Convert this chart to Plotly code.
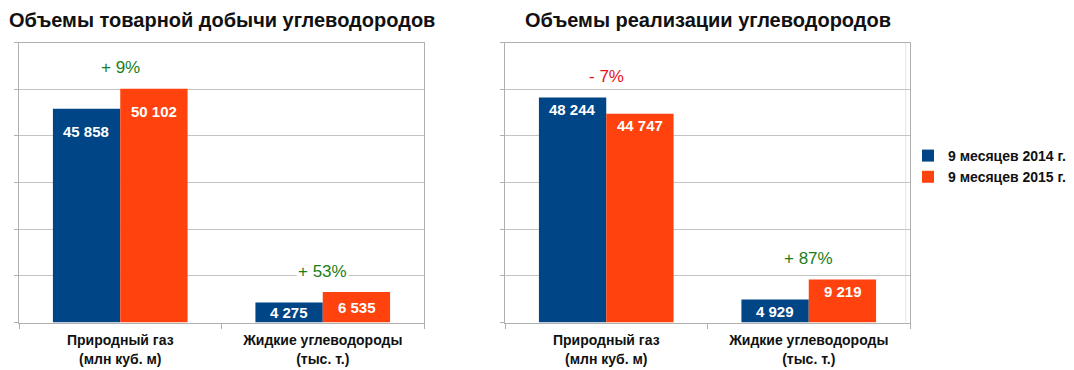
import plotly.graph_objects as go

# ---- data ----
categories = ["Природный газ<br>(млн куб. м)", "Жидкие углеводороды<br>(тыс. т.)"]
series_names = ["9 месяцев 2014 г.", "9 месяцев 2015 г."]
prod_2014 = [45858, 4275]
prod_2015 = [50102, 6535]
sales_2014 = [48244, 4929]
sales_2015 = [44747, 9219]
prod_change = ["+ 9%", "+ 53%"]
sales_change = ["- 7%", "+ 87%"]
titles = ["Объемы товарной добычи углеводородов", "Объемы реализации углеводородов"]
y_max = 60000
y_step = 10000

# ---- style ----
OFF = 8  # default page body margin
W, H = 1074 - OFF, 370 - OFF
BLUE = "#004586"
ORANGE = "#ff420e"
GREEN = "#198019"
RED = "#e8111a"
FONT = "Liberation Sans, Arial, sans-serif"
plot_top, plot_bottom = 42.7 - OFF, 322.5 - OFF
plot_h = plot_bottom - plot_top
dom_y = [(H - plot_bottom) / H, (H - plot_top) / H]
dom_x1 = [(19 - OFF) / W, (424 - OFF) / W]
dom_x2 = [(505 - OFF) / W, (910 - OFF) / W]

fig = go.Figure()

charts = [
    ("x", "y", prod_2014, prod_2015, prod_change, 23, True),
    ("x2", "y2", sales_2014, sales_2015, sales_change, 12, False),
]

annotations = []
for ci, (xa, ya, v14, v15, chg, top_off, showleg) in enumerate(charts):
    for si, (vals, col) in enumerate([(v14, BLUE), (v15, ORANGE)]):
        fig.add_trace(go.Bar(
            x=categories, y=vals, name=series_names[si], marker=dict(color=col, line=dict(width=0)),
            xaxis=xa, yaxis=ya, showlegend=showleg, offsetgroup=str(si),
            hoverinfo="skip",
        ))
        # value labels
        for k, v in enumerate(vals):
            hpx = v / y_max * plot_h
            shift = -min(top_off, hpx / 2)
            annotations.append(dict(
                x=categories[k], y=v, xref=xa, yref=ya, xshift=(-34 if si == 0 else 34),
                yshift=shift, yanchor="middle", showarrow=False,
                text=f"{v:,}".replace(",", " "),
                font=dict(family=FONT, size=15, color="white", weight="bold"),
            ))
    # change labels
    for k in range(len(categories)):
        top = max(v14[k], v15[k])
        c = RED if chg[k].startswith("-") else GREEN
        annotations.append(dict(
            x=categories[k], y=top, xref=xa, yref=ya, yshift=21, yanchor="middle",
            showarrow=False, text=chg[k], bgcolor="white", borderpad=1,
            font=dict(family=FONT, size=17, color=c),
        ))

# titles
for t, dom in zip(titles, [dom_x1, dom_x2]):
    annotations.append(dict(
        x=(dom[0] + dom[1]) / 2, y=1 - (20.5 - OFF) / H, xref="paper", yref="paper",
        text=f"<b>{t}</b>", showarrow=False, xanchor="center", yanchor="middle",
        borderpad=0, font=dict(family=FONT, size=20, color="#111111"),
    ))

xaxis_common = dict(
    type="category", tickson="boundaries", ticks="outside", ticklen=5, tickcolor="#b0b0b0",
    showline=True, linecolor="#b0b0b0", linewidth=1, mirror=True, showgrid=False,
    ticklabelstandoff=5,
    tickfont=dict(family=FONT, size=14, color="#111111", weight="bold"),
)
yaxis_common = dict(
    range=[0, y_max], dtick=y_step, showticklabels=False, ticks="outside", ticklen=4,
    tickcolor="#b0b0b0", showgrid=True, gridcolor="#c4c4c4", gridwidth=1,
    showline=True, linecolor="#b0b0b0", mirror=True, zeroline=False, domain=dom_y,
)

fig.update_layout(
    width=W, height=H, margin=dict(l=0, r=0, t=0, b=0),
    paper_bgcolor="white", plot_bgcolor="white",
    barmode="group", bargap=0.335, bargroupgap=0,
    xaxis={**xaxis_common, "domain": dom_x1, "anchor": "y"},
    xaxis2={**xaxis_common, "domain": dom_x2, "anchor": "y2"},
    yaxis={**yaxis_common, "anchor": "x"},
    yaxis2={**yaxis_common, "anchor": "x2"},
    legend=dict(x=(908 - OFF) / W, y=1 - (166.5 - OFF) / H, xanchor="left", yanchor="middle",
                font=dict(family=FONT, size=14, color="#111111", weight="bold"),
                itemwidth=30, bgcolor="rgba(0,0,0,0)"),
    shapes=[dict(type="line", xref="paper", yref="paper",
                 x0=(905.7 - OFF) / W, x1=(905.7 - OFF) / W, y0=dom_y[0], y1=dom_y[1],
                 line=dict(color="#e4e4e4", width=1), layer="below")],
    annotations=annotations,
    font=dict(family=FONT),
)

fig.write_html("out.html")
